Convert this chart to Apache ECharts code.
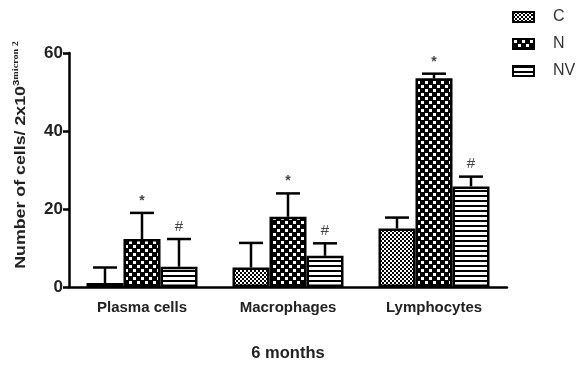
<!DOCTYPE html>
<html><head><meta charset="utf-8">
<script src="https://cdn.jsdelivr.net/npm/echarts@6/dist/echarts.min.js"></script>
<style>html,body{margin:0;padding:0;background:#fff}#c{width:578px;height:367px}</style>
</head><body><div id="c"></div>
<script>
const categories = ['Plasma cells', 'Macrophages', 'Lymphocytes'];
const seriesNames = ['C', 'N', 'NV'];
const meanC = [1, 5, 15];
const meanN = [12.3, 18, 53.5];
const meanNV = [5.2, 8, 25.8];
const errC = [5, 11.3, 17.8];
const errN = [19, 24, 54.7];
const errNV = [12.3, 11.2, 28.3];
const marksN = ['*', '*', '*'];
const marksNV = ['#', '#', '#'];
const yTicks = [0, 20, 40, 60];

function pat(w, h, draw) {
  const c = document.createElement('canvas'); c.width = w; c.height = h;
  const g = c.getContext('2d'); g.fillStyle = '#fff'; g.fillRect(0, 0, w, h); g.fillStyle = '#000'; draw(g);
  return { image: c, repeat: 'repeat' };
}
const patC = pat(4, 4, g => { g.fillRect(0, 0, 2, 2); g.fillRect(2, 2, 2, 2); });
const patN = pat(8, 8, g => { g.fillRect(0, 0, 8, 8); g.fillStyle = '#fff'; g.fillRect(1, 1, 3, 3); g.fillRect(5, 5, 3, 3); });
const patNV = pat(4, 5, g => { g.fillRect(0, 0, 4, 2); });
const pats = [patC, patN, patNV];
const means = [meanC, meanN, meanNV];
const errs = [errC, errN, errNV];
const marks = [null, marksN, marksNV];
const BW = 37;
const offsets = [-BW, 0, BW];

const chart = echarts.init(document.getElementById('c'));
const series = [];
seriesNames.forEach((n, i) => {
  series.push({
    name: n, type: 'bar', barWidth: BW, barGap: '0%',
    data: means[i],
    itemStyle: { color: pats[i], borderColor: '#000', borderWidth: 2.5 },
    z: 2
  });
});
seriesNames.forEach((n, i) => {
  series.push({
    type: 'custom', z: 3,
    data: categories.map((c, k) => [k, means[i][k], errs[i][k], marks[i] ? marks[i][k] : '']),
    renderItem: (params, api) => {
      const p0 = api.coord([api.value(0), api.value(1)]);
      const p1 = api.coord([api.value(0), api.value(2)]);
      const x = p0[0] + offsets[i];
      const ch = [
        { type: 'line', shape: { x1: x, y1: p0[1], x2: x, y2: p1[1] }, style: { stroke: '#000', lineWidth: 2.5 } },
        { type: 'line', shape: { x1: x - 12, y1: p1[1], x2: x + 12, y2: p1[1] }, style: { stroke: '#000', lineWidth: 2.5 } }
      ];
      const m = marks[i] ? marks[i][params.dataIndex] : '';
      if (m) ch.push({ type: 'text', style: { text: m, x: x, y: p1[1] - 5, textAlign: 'center', textVerticalAlign: 'bottom', fill: '#444', font: m === '*' ? 'bold 14px "Liberation Sans"' : '15px "Liberation Sans"' } });
      return { type: 'group', children: ch };
    }
  });
});

chart.setOption({
  backgroundColor: '#fff',
  animation: false,
  grid: { left: 69, right: 71, top: 53, bottom: 75 },
  legend: {
    orient: 'vertical', left: 507, top: 4, itemWidth: 21, itemHeight: 10, itemGap: 11, icon: 'rect',
    data: seriesNames,
    textStyle: { fontFamily: 'Liberation Sans', fontSize: 16, color: '#333', padding: [0, 0, 0, 14] }
  },
  xAxis: {
    type: 'category', data: categories,
    axisLine: { lineStyle: { color: '#000', width: 2.5 } },
    axisTick: { alignWithLabel: true, length: 6, lineStyle: { color: '#000', width: 2.5 } },
    axisLabel: { fontFamily: 'Liberation Sans', fontWeight: 'bold', fontSize: 15, color: '#222', margin: 13 },
    name: '6 months', nameLocation: 'middle', nameGap: 58,
    nameTextStyle: { fontFamily: 'Liberation Sans', fontWeight: 'bold', fontSize: 16.5, color: '#222' }
  },
  yAxis: {
    type: 'value', min: yTicks[0], max: yTicks[yTicks.length - 1], interval: 20,
    splitLine: { show: false },
    axisLine: { show: true, lineStyle: { color: '#000', width: 2.5 } },
    axisTick: { show: true, length: 6, lineStyle: { color: '#000', width: 2.5 } },
    axisLabel: { fontFamily: 'Liberation Sans', fontWeight: 'bold', fontSize: 17, color: '#222', margin: 6 }
  },
  graphic: [{
    type: 'text', x: 21, y: 155, rotation: Math.PI / 2, scaleX: 1.27,
    style: {
      text: 'Number of cells/ 2x10{sup|3}{sm|micron 2}',
      textAlign: 'center', textVerticalAlign: 'middle',
      font: 'bold 14px "Liberation Sans"', fill: '#222',
      rich: {
        sup: { font: 'bold 9px "Liberation Sans"', fill: '#222', verticalAlign: 'top', lineHeight: 18 },
        sm: { font: 'bold 8px "Liberation Serif"', fill: '#222', verticalAlign: 'top', lineHeight: 18 }
      }
    }
  }],
  series: series
});
</script></body></html>
